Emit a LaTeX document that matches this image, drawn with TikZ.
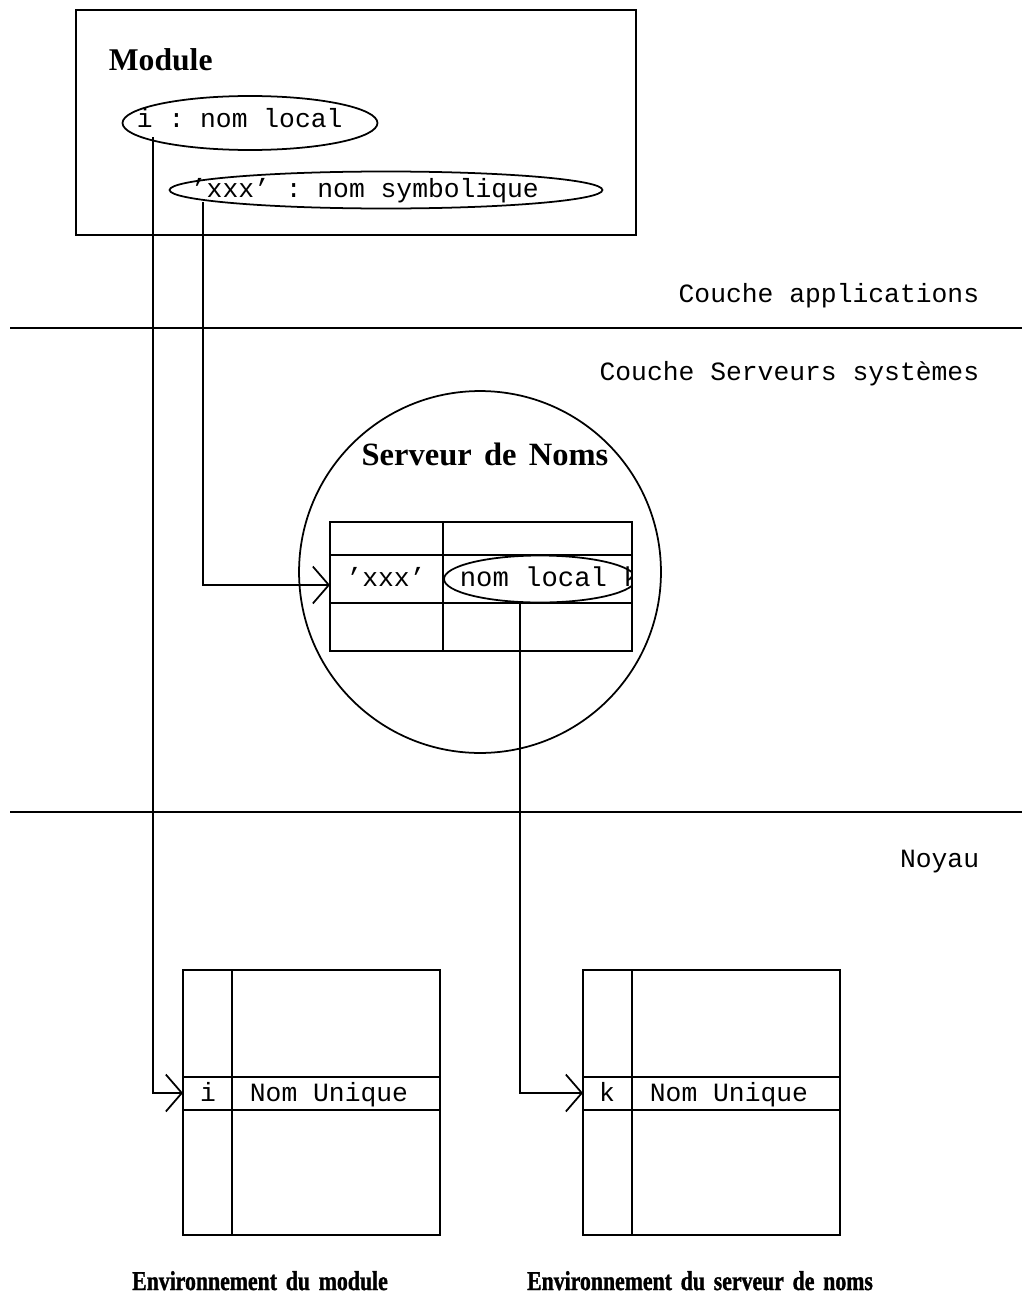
\documentclass[tikz,border=0pt]{standalone}
\usepackage{fontspec}
\setmainfont{Liberation Serif}
\setmonofont{Liberation Mono}
\newfontfamily\legende[FakeStretch=0.8,FakeBold=1.2]{Liberation Serif}
\usetikzlibrary{arrows.meta,shapes.geometric}

\begin{document}
\begin{tikzpicture}[x=0.02cm, y=-0.02cm, line width=1pt,
	oval/.style={draw, ellipse, inner sep=0pt},
	mono/.style={font={\fontsize{15}{18}\selectfont\ttfamily}, inner sep=0pt},
	titre/.style={font={\fontsize{18}{22}\selectfont\bfseries}, inner sep=0pt},
	legende/.style={font={\fontsize{15.5}{18}\selectfont\legende\bfseries\spaceskip=5pt\relax}, inner sep=0pt},
	ptr/.style={-{Straight Barb[length=3.2mm, width=7.4mm]}},
]

% parameters %{{{2

	\def\tabw{257}
	\def\colw{49}

	\useasboundingbox (0,0) rectangle (1022,1301);

% layers %{{{2

	\draw (10,328) -- (1022,328);
	\draw (10,812) -- (1022,812);

	\node[mono, anchor=base east] (appli) at (980,302) {Couche applications};
	\node[mono, anchor=base east] (serv) at (980,380) {Couche Serveurs systèmes};
	\node[mono, anchor=base east] (noyau) at (980,867) {Noyau};

% module %{{{2

	\draw (76,10) rectangle (636,235);

	\node[titre, anchor=base west] (module) at (108,71) {Module};

	\node[oval, minimum width=5.1cm, minimum height=1.08cm] (loc) at (250,123) {};
	\node[mono, anchor=base west] (locTxt) at (136,128) {i : nom local};

	\node[oval, minimum width=8.66cm, minimum height=0.74cm] (sym) at (386,190) {};
	\node[mono, anchor=base west] (symTxt) at (190,197) {’xxx’ : nom symbolique};

% name server %{{{2

	\node[draw, circle, minimum size=7.24cm] (ns) at (480,572) {};
	\node[titre, font={\fontsize{18.5}{22}\selectfont\bfseries\spaceskip=7pt\relax}, anchor=base] (nsTitre) at (485,465) {Serveur de Noms};

	\draw (330,522) rectangle (632,651);
	\draw (443,522) -- (443,651);
	\draw (330,555) -- (632,555);
	\draw (330,603) -- (632,603);

	\node[mono, anchor=base] (xxx) at (386,586) {’xxx’};

	\begin{scope}
		\clip (330,522) rectangle (632,651);
		\node[oval, minimum width=3.84cm, minimum height=0.94cm] (nlk) at (540,579) {};
		\node[mono, font={\fontsize{15.5}{18}\selectfont\ttfamily}, anchor=base west] (nlkTxt) at (459,586) {nom local k};
	\end{scope}

% environments %{{{2

	\foreach \x/\n in {183/A,583/B} {
		\draw (\x,970) rectangle ++(\tabw,265);
		\draw (\x+\colw,970) -- ++(0,265);
		\draw (\x,1077) -- ++(\tabw,0);
		\draw (\x,1110) -- ++(\tabw,0);
		\coordinate (tab\n) at (\x,1093);
		\node[mono, anchor=base west] (uniq\n) at (\x+66,1101) {Nom Unique};
	}

	\node[mono, anchor=base] (iA) at (208,1101) {i};
	\node[mono, anchor=base] (kB) at (607,1101) {k};

	\node[legende, anchor=base] (envA) at (260,1290) {Environnement du module};
	\node[legende, anchor=base] (envB) at (700,1290) {Environnement du serveur de noms};

% pointers %{{{2

	\coordinate (iTop) at (153,137);
	\coordinate (xxxTop) at (203,202);
	\coordinate (kTop) at (520,602);
	\coordinate (nsIn) at (330,585);

	\draw[ptr] (iTop) |- (tabA);
	\draw[ptr] (xxxTop) |- (nsIn);
	\draw[ptr] (kTop) |- (tabB);

% closing %{{{2

\end{tikzpicture}
\end{document}
